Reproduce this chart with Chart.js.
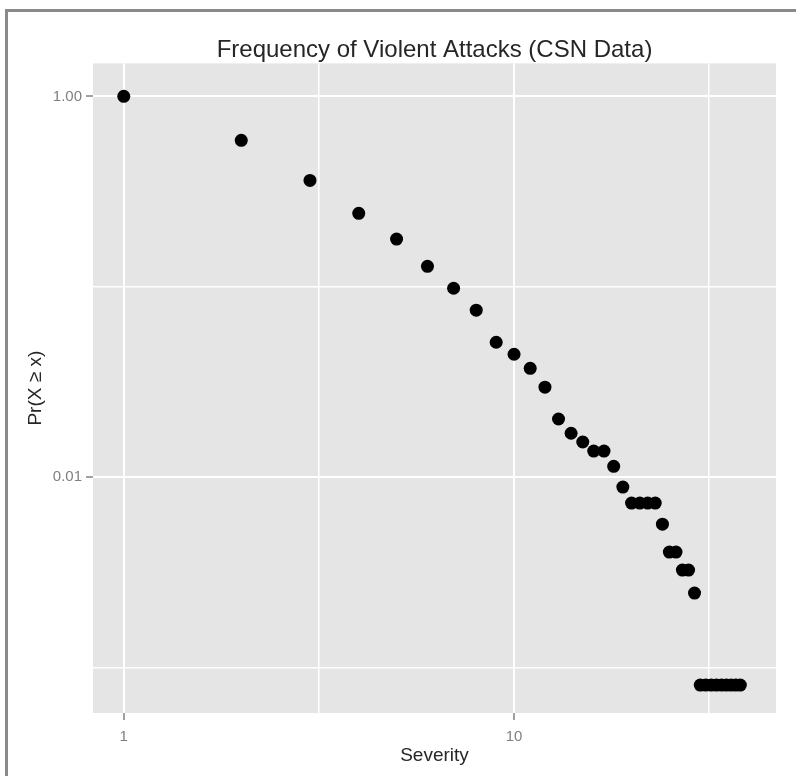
<!DOCTYPE html>
<html>
<head>
<meta charset="utf-8">
<script src="https://cdn.jsdelivr.net/npm/chart.js@4/dist/chart.umd.min.js"></script>
<style>
  html, body { margin: 0; padding: 0; background: #fff; overflow: hidden; }
  #wrap { position: relative; width: 796px; height: 776px; }
  #frame {
    position: absolute; left: 5px; top: 9px; width: 820px; height: 800px;
    border-top: 3px solid #8a8a8a; border-left: 3px solid #8a8a8a;
    pointer-events: none;
  }
</style>
</head>
<body>
<div id="wrap">
  <canvas id="myChart" width="796" height="776"></canvas>
  <div id="frame"></div>
</div>
<script>
// severity (x) and Pr(X >= x) (y)
const severity = [
    1, 2, 3, 4, 5, 6, 7, 8, 9, 10,
    11, 12, 13, 14, 15, 16, 17, 18, 19, 20,
    21, 22, 23, 24, 25, 26, 27, 28, 29, 30,
    31, 32, 33, 34, 35, 36, 37, 38
];
const prob = [
    1.0, 0.588, 0.362, 0.243, 0.178, 0.128, 0.0982, 0.0753, 0.0511, 0.0442,
    0.0373, 0.0297, 0.0202, 0.0170, 0.0153, 0.0137, 0.0137, 0.0114, 0.00887, 0.00731,
    0.00731, 0.00731, 0.00731, 0.00566, 0.00404, 0.00404, 0.00325, 0.00325, 0.00246, 0.000809,
    0.000809, 0.000809, 0.000809, 0.000809, 0.000809, 0.000809, 0.000809, 0.000809
];

// grid lines: major breaks get a label, minor ones sit halfway (in log space)
const xBreaks = [1, 10];
const xMinor = [Math.sqrt(10), Math.sqrt(10) * 10];
const yBreaks = [1, 0.01];
const yMinor = [0.1, 0.001];
const yLabels = ['1.00', '0.01'];

const points = severity.map(function(x, i) {
    return { x: x, y: prob[i] };
});

function isMajor(list, v) {
    return list.some(function(b) { return Math.abs(Math.log10(b) - Math.log10(v)) < 1e-6; });
}

// ggplot style grey panel
const panelBg = {
    id: 'panelBg',
    beforeDraw(chart) {
        const { ctx, chartArea: a } = chart;
        ctx.save();
        ctx.fillStyle = '#e5e5e5';
        ctx.fillRect(a.left, a.top, a.right - a.left, a.bottom - a.top);
        ctx.restore();
    }
};

const config = {
    type: 'scatter',
    data: {
        datasets: [{
            label: 'CSN',
            data: points,
            backgroundColor: '#000',
            borderColor: '#000',
            pointRadius: 6.5,
            pointHoverRadius: 6.5,
            borderWidth: 0
        }]
    },
    options: {
        responsive: false,
        animation: false,
        layout: {
            padding: { left: 0, top: 0, right: 20, bottom: 0 }
        },
        plugins: {
            legend: { display: false },
            tooltip: { enabled: false },
            title: {
                display: true,
                text: 'Frequency of Violent Attacks (CSN Data)',
                color: '#262626',
                fullSize: false,
                font: { family: 'Liberation Sans', size: 24, weight: 'normal', lineHeight: 1.1 },
                padding: { top: 37, bottom: 0 }
            }
        },
        scales: {
            x: {
                type: 'logarithmic',
                min: 0.834,
                max: 46.9,
                bounds: 'data',
                afterBuildTicks: function(scale) {
                    scale.ticks = xBreaks.concat(xMinor).map(function(v) { return { value: v }; });
                },
                afterFit: function(scale) { scale.height = 63; },
                border: { display: false },
                grid: {
                    color: '#ffffff',
                    lineWidth: function(ctx) { return isMajor(xBreaks, ctx.tick.value) ? 2 : 1.5; },
                    drawTicks: true,
                    tickLength: 7,
                    tickWidth: 1.5,
                    tickColor: function(ctx) { return isMajor(xBreaks, ctx.tick.value) ? '#808080' : 'rgba(0,0,0,0)'; }
                },
                ticks: {
                    autoSkip: false,
                    maxRotation: 0,
                    padding: 8,
                    color: '#7f7f7f',
                    font: { family: 'Liberation Sans', size: 15 },
                    callback: function(value) {
                        return isMajor(xBreaks, value) ? String(Math.round(value)) : '';
                    }
                },
                title: {
                    display: true,
                    text: 'Severity',
                    color: '#262626',
                    font: { family: 'Liberation Sans', size: 19 },
                    padding: { top: 0, bottom: 9 }
                }
            },
            y: {
                type: 'logarithmic',
                min: 0.000577,
                max: 1.49,
                bounds: 'data',
                afterBuildTicks: function(scale) {
                    scale.ticks = yBreaks.concat(yMinor).map(function(v) { return { value: v }; });
                },
                afterFit: function(scale) { scale.width = 93; },
                border: { display: false },
                grid: {
                    color: '#ffffff',
                    lineWidth: function(ctx) { return isMajor(yBreaks, ctx.tick.value) ? 2 : 1.5; },
                    drawTicks: true,
                    tickLength: 7,
                    tickWidth: 1.5,
                    tickColor: function(ctx) { return isMajor(yBreaks, ctx.tick.value) ? '#808080' : 'rgba(0,0,0,0)'; }
                },
                ticks: {
                    autoSkip: false,
                    padding: 4,
                    color: '#7f7f7f',
                    font: { family: 'Liberation Sans', size: 15 },
                    callback: function(value) {
                        const i = yBreaks.findIndex(function(b) { return Math.abs(Math.log10(b) - Math.log10(value)) < 1e-6; });
                        return i >= 0 ? yLabels[i] : '';
                    }
                },
                title: {
                    display: true,
                    text: 'Pr(X ≥ x)',
                    color: '#262626',
                    font: { family: 'Liberation Sans', size: 19 },
                    padding: { top: 24, bottom: 0 }
                }
            }
        }
    },
    plugins: [panelBg]
};

const myChart = new Chart(document.getElementById('myChart'), config);
</script>
</body>
</html>
